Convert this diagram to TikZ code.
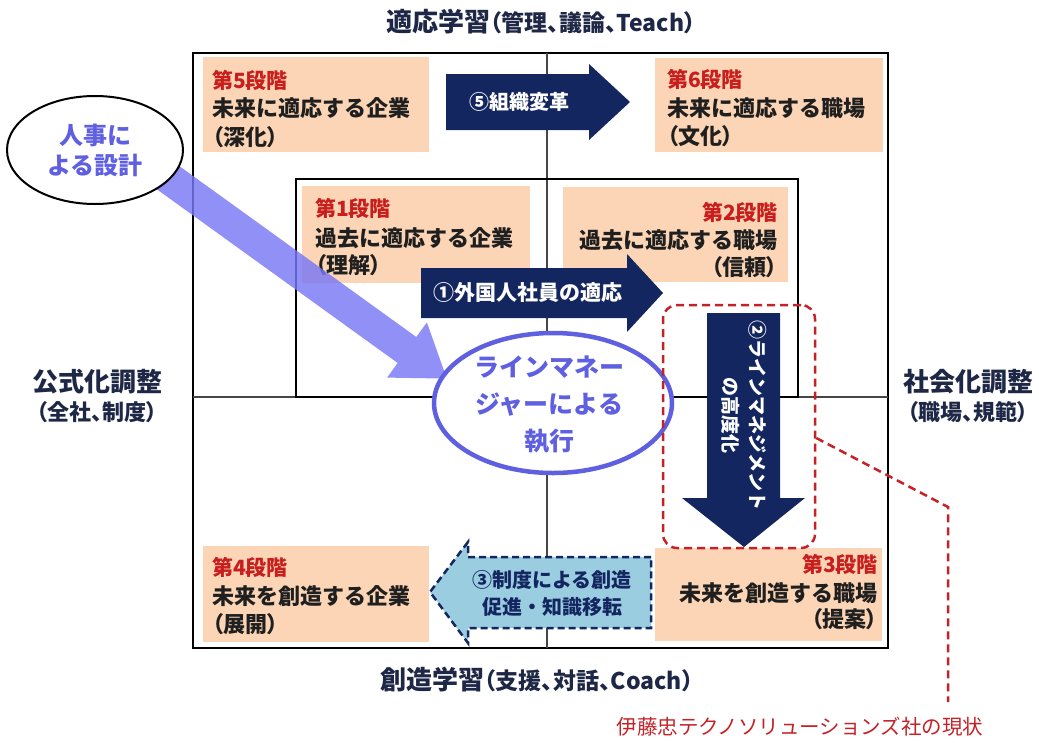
\documentclass[tikz,border=0pt]{standalone}
\usepackage{fontspec}
\setmainfont{Noto Sans CJK JP}
\usetikzlibrary{shapes.geometric}
\newcommand\pl{\addfontfeatures{RawFeature=+palt}}
\definecolor{peach}{RGB}{251,213,181}
\definecolor{navy}{RGB}{20,38,95}
\definecolor{stred}{RGB}{200,30,30}
\definecolor{dred}{RGB}{195,35,40}
\definecolor{peri}{RGB}{120,120,245}
\definecolor{perid}{RGB}{95,95,225}
\definecolor{lblue}{RGB}{155,205,225}
\definecolor{labc}{RGB}{30,40,70}
\definecolor{gline}{RGB}{70,70,70}
\begin{document}
\begin{tikzpicture}[x=1pt,y=-1pt,
  stbox/.style={fill=peach, inner sep=0, anchor=north west},
  stnum/.style={text=stred, font=\fontsize{21}{24}\selectfont\bfseries, inner sep=0},
  sttxt/.style={text=black!88, font=\fontsize{22}{26}\selectfont\bfseries, inner sep=0},
  stpar/.style={text=black!88, font=\fontsize{22}{26}\selectfont\bfseries\pl, inner sep=0},
  navyarrow/.style={fill=navy},
  arrtxt/.style={text=white, font=\fontsize{20}{27}\selectfont\bfseries, inner sep=0, align=center},
  sidelab/.style={text=labc, font=\fontsize{26}{30}\selectfont\bfseries, inner sep=0},
  sidepar/.style={text=labc, font=\fontsize{22}{26}\selectfont\bfseries\pl, inner sep=0},
  reddash/.style={draw=dred, line width=2.5pt, dash pattern=on 8pt off 5pt},
]
\useasboundingbox (0,0) rectangle (1039,742);

% frame and axes
\draw[line width=2.5pt] (193,53) rectangle (888,648);
\draw[gline, line width=1.3pt] (547,53) -- (547,648);
\draw[gline, line width=1.3pt] (193,397) -- (888,397);
\draw[line width=2.5pt] (296,179) rectangle (798,397);

% stage boxes
\node[stbox, minimum width=226pt, minimum height=95pt] (s5) at (203,57) {};
\node[stbox, minimum width=228pt, minimum height=94pt] (s6) at (655,58) {};
\node[stbox, minimum width=228pt, minimum height=97pt] (s1) at (302,186) {};
\node[stbox, minimum width=225pt, minimum height=95pt] (s2) at (563,187) {};
\node[stbox, minimum width=226pt, minimum height=96pt] (s4) at (203,546) {};
\node[stbox, minimum width=227pt, minimum height=93pt] (s3) at (655,548) {};

% stage texts
\node[stnum, anchor=west] (s5a) at (212,80) {第5段階};
\node[sttxt, anchor=west] (s5b) at (212,108) {未来に適応する企業};
\node[stpar, anchor=west] (s5c) at (212,137) {（深化）};
\node[stnum, anchor=west] (s6a) at (667,79) {第6段階};
\node[sttxt, anchor=west] (s6b) at (667,108) {未来に適応する職場};
\node[stpar, anchor=west] (s6c) at (667,136) {（文化）};
\node[stnum, anchor=west] (s1a) at (315,208) {第1段階};
\node[sttxt, anchor=west] (s1b) at (315,238) {過去に適応する企業};
\node[stpar, anchor=west] (s1c) at (315,265) {（理解）};
\node[stnum, anchor=east] (s2a) at (778,212) {第2段階};
\node[sttxt, anchor=east] (s2b) at (778,240) {過去に適応する職場};
\node[stpar, anchor=east] (s2c) at (778,267) {（信頼）};
\node[stnum, anchor=west] (s4a) at (212,567) {第4段階};
\node[sttxt, anchor=west] (s4b) at (212,596) {未来を創造する企業};
\node[stpar, anchor=west] (s4c) at (212,624) {（展開）};
\node[stnum, anchor=east] (s3a) at (878,564) {第3段階};
\node[sttxt, anchor=east] (s3b) at (878,593) {未来を創造する職場};
\node[stpar, anchor=east] (s3c) at (878,619) {（提案）};

% arrow 5
\fill[navyarrow] (446,74) -- (589,74) -- (589,64) -- (630,102) -- (589,140) -- (589,130) -- (446,130) -- cycle;
\node[arrtxt] (a5) at (519,102) {⑤組織変革};
% arrow 1
\fill[navyarrow] (421,268) -- (627,268) -- (627,254) -- (663,293) -- (627,332) -- (627,318) -- (421,318) -- cycle;
\node[arrtxt, font=\fontsize{21}{27}\selectfont\bfseries] (a1) at (528,293) {①外国人社員の適応};
% arrow 3
\filldraw[fill=lblue, draw=navy, line width=2.5pt, dash pattern=on 7pt off 4pt]
  (651,557) -- (468,557) -- (468,542) -- (430,592) -- (468,643) -- (468,628) -- (651,628) -- cycle;
\node[arrtxt, text=navy] (a3) at (552,593) {③制度による創造\\促進・知識移転};

% big periwinkle arrow from HR design to line-manager execution
\coordinate (hrs1) at (129.3,130);
\coordinate (hrs2) at (110.7,156);
\coordinate (hrtip) at (446.8,378.6);
\fill[peri, opacity=0.82] (hrs1) -- (416.3,337) -- (426.9,322.4) -- (hrtip) -- (387.1,377.6) -- (397.7,363) -- (hrs2) -- cycle;

% ellipses
\node[ellipse, draw, line width=2pt, fill=white, minimum width=176pt, minimum height=108pt,
      text=perid, font=\fontsize{24}{30}\selectfont\bfseries, align=center] (hr) at (95,150) {人事に\\よる設計};
\node[ellipse, draw=perid, line width=4.5pt, fill=white, minimum width=238pt, minimum height=140pt] (cm) at (553,403) {};
\node[text=perid, font=\fontsize{25}{37}\selectfont\bfseries, align=center, inner sep=0] (cmt) at (549,405) {ラインマネー\\ジャーによる\\執行};

% arrow 2
\fill[navyarrow] (707,313) -- (780,313) -- (780,498) -- (805,498) -- (744,547) -- (682,498) -- (707,498) -- cycle;
\node[arrtxt, rotate=-90, font=\fontsize{19}{27}\selectfont\bfseries] (a2) at (744,415) {②ラインマネジメント\\の高度化};

% current-state frame and callout
\node[reddash, rounded corners=14pt, minimum width=152pt, minimum height=243pt, inner sep=0] (cur) at (739,426.5) {};
\node[text=dred, font=\fontsize{20.5}{24}\selectfont, inner sep=0] (lab) at (800,727) {伊藤忠テクノソリューションズ社の現状};
\coordinate (bend) at (948,507);
\coordinate (lend) at (948,702);
\draw[reddash] ([yshift=-11.5pt]cur.east) -- (bend) -- (lend);

% axis labels
\node[text=labc, font=\bfseries, inner sep=0] (top) at (541,22) {{\fontsize{26}{30}\selectfont 適応学習}{\fontsize{23}{30}\selectfont\pl （管理、議論、Teach）}};
\node[text=labc, font=\bfseries, inner sep=0] (bot) at (537,680) {{\fontsize{26}{30}\selectfont 創造学習}{\fontsize{23}{30}\selectfont\pl （支援、対話、Coach）}};
\node[sidelab] (lt) at (97,382) {公式化調整};
\node[sidepar] (lp) at (97,412) {（全社、制度）};
\node[sidelab] (rt) at (968,382) {社会化調整};
\node[sidepar] (rp) at (968,412) {（職場、規範）};
\end{tikzpicture}
\end{document}
